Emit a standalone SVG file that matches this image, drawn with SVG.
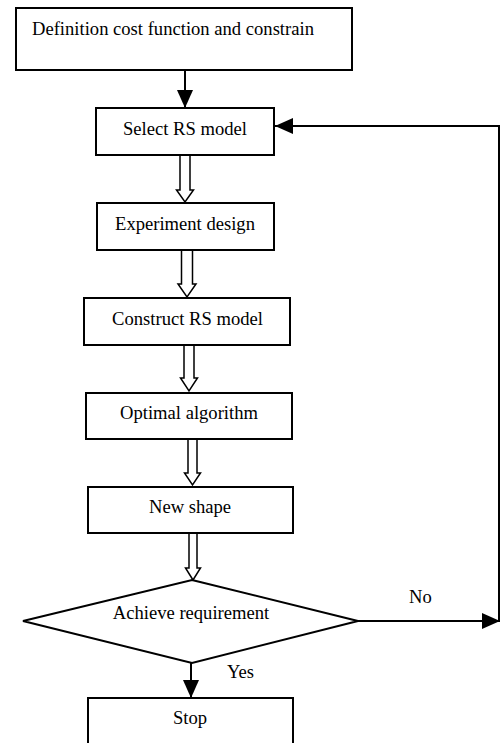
<svg xmlns="http://www.w3.org/2000/svg" width="501" height="743" viewBox="0 0 501 743">
<style>
.box{fill:#fff;stroke:#000;stroke-width:2}
.t{font-family:"Liberation Serif","Times New Roman",serif;font-size:18.6px;fill:#000}
.c{stroke:#000;stroke-width:2;fill:none}
.h{fill:#fff;stroke:#000;stroke-width:1.5;stroke-linejoin:miter}
</style>
<defs>
<marker id="ah" markerUnits="userSpaceOnUse" markerWidth="18" markerHeight="16" refX="18" refY="8" orient="auto">
<path d="M0,0 L18,8 L0,16 z" fill="#000"/>
</marker>
</defs>
<rect width="501" height="743" fill="#fff"/>
<g id="connectors">
<path class="c" d="M185,70 V108" marker-end="url(#ah)"/>
<path class="c" d="M499,621 V126 H275" marker-end="url(#ah)"/>
<path class="c" d="M358,621 H500" marker-end="url(#ah)"/>
<path class="c" d="M191,663 V698" marker-end="url(#ah)"/>
<polygon class="h" points="180,155 190,155 190,190 193.5,190 185,202 176.5,190 180,190"/>
<polygon class="h" points="181.5,250 192.5,250 192.5,284 196,284 187,297 178,284 181.5,284"/>
<polygon class="h" points="184,345 194,345 194,378 197.5,378 189,391 180.5,378 184,378"/>
<polygon class="h" points="188,439 197,439 197,473 200.5,473 192.5,485 184.5,473 188,473"/>
<polygon class="h" points="189,533 197,533 197,568 200.5,568 193,580 185.5,568 189,568"/>
<text class="t" x="409" y="603">No</text>
<text class="t" x="227" y="678">Yes</text>
</g>
<g id="n1"><rect class="box" x="16" y="8" width="336" height="62"/><text class="t" x="32" y="35">Definition cost function and constrain</text></g>
<g id="n2"><rect class="box" x="96" y="108" width="178" height="47"/><text class="t" x="185" y="135" text-anchor="middle">Select RS model</text></g>
<g id="n3"><rect class="box" x="97" y="203" width="177" height="47"/><text class="t" x="185" y="230" text-anchor="middle">Experiment design</text></g>
<g id="n4"><rect class="box" x="84" y="298" width="206" height="47"/><text class="t" x="187.5" y="325" text-anchor="middle">Construct RS model</text></g>
<g id="n5"><rect class="box" x="86" y="393" width="206" height="46"/><text class="t" x="189" y="419" text-anchor="middle">Optimal algorithm</text></g>
<g id="n6"><rect class="box" x="88" y="487" width="205" height="46"/><text class="t" x="190" y="513" text-anchor="middle">New shape</text></g>
<g id="n7"><polygon class="box" points="192,580 358,621 192,663 23,621"/><text class="t" x="191" y="619" text-anchor="middle">Achieve requirement</text></g>
<g id="n8"><rect class="box" x="88" y="698" width="205" height="60"/><text class="t" x="190" y="724" text-anchor="middle">Stop</text></g>
</svg>
